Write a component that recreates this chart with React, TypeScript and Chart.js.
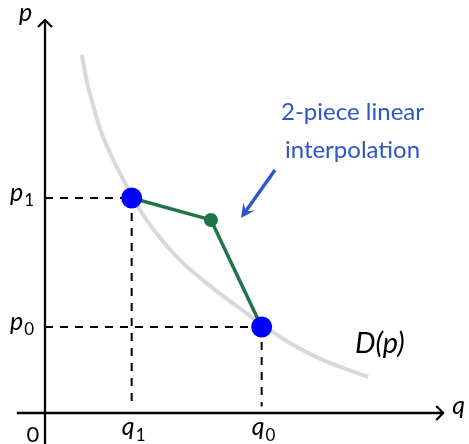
import React, { useEffect, useRef } from "react";
import { Chart, registerables } from "chart.js";

Chart.register(...registerables);

const WIDTH = 469;
const HEIGHT = 444;

// Visible window in (q, p) units
const Q_MIN = -1.0385;
const Q_MAX = 9.785;
const P_MIN = -0.721;
const P_MAX = 9.605;

// Axis line extents
const Q_AXIS_FROM = -0.65;
const Q_AXIS_TO = 9.19;
const P_AXIS_FROM = -0.72;
const P_AXIS_TO = 9.14;

// Demand curve D(p), sampled as (q, p)
const demandQ = [0.85, 0.96, 1.12, 1.31, 1.54, 1.81, 1.97, 2.23, 2.58, 2.96, 3.35, 3.73, 4.11, 4.5, 4.85, 5.06, 5.61, 6.39, 7.46];
const demandP = [8.33, 7.74, 7.12, 6.5, 5.96, 5.42, 5.12, 4.66, 4.17, 3.72, 3.34, 3.02, 2.72, 2.43, 2.17, 2.02, 1.65, 1.24, 0.84];

// Observed price/quantity pairs
const q1 = 2;
const p1 = 5;
const q0 = 5;
const p0 = 2;

// Two-piece linear interpolation knots (q, p)
const knotQ = [q1, 3.83, q0];
const knotP = [p1, 4.49, p0];

const GRAY = "#d9d9d9";
const GREEN = "#1e7548";
const BLUE_DOT = "#0000ff";
const NOTE_BLUE = "#2c57c9";
const FONT = "Lato, 'Open Sans', sans-serif";

const toPoints = (xs: number[], ys: number[]) => xs.map((x, i) => ({ x, y: ys[i] }));

function drawSubLabel(
  ctx: CanvasRenderingContext2D,
  letter: string,
  sub: string,
  x: number,
  baseline: number,
  align: "right" | "center",
  size: number,
  subSize: number,
  subDrop: number
) {
  ctx.font = `italic ${size}px ${FONT}`;
  const wl = ctx.measureText(letter).width;
  ctx.font = `${subSize}px ${FONT}`;
  const ws = ctx.measureText(sub).width;
  const total = wl + ws + 1;
  const start = align === "right" ? x - total : x - total / 2;
  ctx.textAlign = "left";
  ctx.textBaseline = "alphabetic";
  ctx.font = `italic ${size}px ${FONT}`;
  ctx.fillText(letter, start, baseline);
  ctx.font = `${subSize}px ${FONT}`;
  ctx.fillText(sub, start + wl + 1, baseline + subDrop);
}

const overlay = {
  id: "overlay",
  beforeDatasetsDraw(chart: any) {
    const { ctx, scales } = chart;
    const X = (v: number) => scales.x.getPixelForValue(v);
    const Y = (v: number) => scales.y.getPixelForValue(v);
    ctx.save();
    ctx.strokeStyle = "#000";
    ctx.lineWidth = 2.3;
    ctx.lineCap = "butt";
    ctx.lineJoin = "round";

    // q axis with open arrowhead
    const y0 = Y(0);
    const xEnd = X(Q_AXIS_TO);
    ctx.beginPath();
    ctx.moveTo(X(Q_AXIS_FROM), y0);
    ctx.lineTo(xEnd, y0);
    ctx.stroke();
    ctx.beginPath();
    ctx.moveTo(xEnd - 7, y0 - 7);
    ctx.lineTo(xEnd, y0);
    ctx.lineTo(xEnd - 7, y0 + 7);
    ctx.stroke();

    // p axis with open arrowhead
    const x0 = X(0);
    const yEnd = Y(P_AXIS_TO);
    ctx.beginPath();
    ctx.moveTo(x0, Y(P_AXIS_FROM));
    ctx.lineTo(x0, yEnd);
    ctx.stroke();
    ctx.beginPath();
    ctx.moveTo(x0 - 7, yEnd + 7);
    ctx.lineTo(x0, yEnd);
    ctx.lineTo(x0 + 7, yEnd + 7);
    ctx.stroke();
    ctx.restore();
  },
  afterDatasetsDraw(chart: any) {
    const { ctx, scales } = chart;
    const X = (v: number) => scales.x.getPixelForValue(v);
    const Y = (v: number) => scales.y.getPixelForValue(v);
    ctx.save();
    ctx.fillStyle = "#000";

    // axis names
    ctx.font = `italic 25px ${FONT}`;
    ctx.textBaseline = "alphabetic";
    ctx.textAlign = "left";
    ctx.fillText("p", 19, 21);
    ctx.fillText("q", X(Q_AXIS_TO) + 9, Y(0) + 1);

    // origin
    ctx.font = `22px ${FONT}`;
    ctx.textAlign = "center";
    ctx.fillText("0", 33, 442);

    // price ticks
    drawSubLabel(ctx, "p", "1", 34, Y(p1) + 3, "right", 25, 17, 5);
    drawSubLabel(ctx, "p", "0", 34, Y(p0) + 3, "right", 25, 17, 5);
    // quantity ticks
    drawSubLabel(ctx, "q", "1", X(q1) + 2, 435, "center", 25, 17, 6);
    drawSubLabel(ctx, "q", "0", X(q0) + 2, 435, "center", 25, 17, 6);

    // curve label
    ctx.font = `italic 29px ${FONT}`;
    ctx.textAlign = "left";
    ctx.fillText("D(p)", 355, 353);

    // annotation
    ctx.fillStyle = NOTE_BLUE;
    ctx.font = `24px ${FONT}`;
    ctx.textAlign = "center";
    ctx.fillText("2-piece linear", 352.5, 120);
    ctx.fillText("interpolation", 352.5, 158);

    // annotation arrow
    const sx = 275, sy = 170, tx = 241, ty = 218;
    const ang = Math.atan2(ty - sy, tx - sx);
    ctx.strokeStyle = NOTE_BLUE;
    ctx.lineWidth = 3.4;
    ctx.lineCap = "butt";
    ctx.beginPath();
    ctx.moveTo(sx, sy);
    ctx.lineTo(tx - 6 * Math.cos(ang), ty - 6 * Math.sin(ang));
    ctx.stroke();
    const L = 14, Wd = 7;
    ctx.beginPath();
    ctx.moveTo(tx, ty);
    ctx.lineTo(tx - L * Math.cos(ang) + Wd * Math.sin(ang), ty - L * Math.sin(ang) - Wd * Math.cos(ang));
    ctx.lineTo(tx - 0.6 * L * Math.cos(ang), ty - 0.6 * L * Math.sin(ang));
    ctx.lineTo(tx - L * Math.cos(ang) - Wd * Math.sin(ang), ty - L * Math.sin(ang) + Wd * Math.cos(ang));
    ctx.closePath();
    ctx.fill();
    ctx.restore();
  },
};

export default function App() {
  const canvasRef = useRef<HTMLCanvasElement | null>(null);

  useEffect(() => {
    if (!canvasRef.current) return;
    const dashed = {
      showLine: true,
      borderColor: "#000",
      borderWidth: 2,
      borderDash: [8, 7],
      pointRadius: 0,
      order: 4,
    };
    const chart = new Chart(canvasRef.current, {
      type: "scatter",
      data: {
        datasets: [
          {
            label: "D(p)",
            data: toPoints(demandQ, demandP),
            showLine: true,
            borderColor: GRAY,
            borderWidth: 4,
            cubicInterpolationMode: "monotone",
            pointRadius: 0,
            order: 6,
          },
          { label: "p1 level", data: [{ x: 0, y: p1 }, { x: q1, y: p1 }], ...dashed },
          { label: "q1 level", data: [{ x: q1, y: p1 }, { x: q1, y: 0.15 }], ...dashed },
          { label: "p0 level", data: [{ x: 0, y: p0 }, { x: q0, y: p0 }], ...dashed },
          { label: "q0 level", data: [{ x: q0, y: p0 }, { x: q0, y: 0.15 }], ...dashed },
          {
            label: "interpolation",
            data: toPoints(knotQ, knotP),
            showLine: true,
            borderColor: GREEN,
            borderWidth: 3.5,
            pointRadius: [0, 7, 0],
            pointBackgroundColor: GREEN,
            pointBorderWidth: 0,
            order: 2,
          },
          {
            label: "observations",
            data: [{ x: q1, y: p1 }, { x: q0, y: p0 }],
            showLine: false,
            pointRadius: 10.5,
            pointBackgroundColor: BLUE_DOT,
            pointBorderWidth: 0,
            order: 1,
          },
        ] as any,
      },
      options: {
        animation: false,
        responsive: false,
        maintainAspectRatio: false,
        layout: { padding: 0, autoPadding: false },
        plugins: { legend: { display: false }, tooltip: { enabled: false } },
        events: [],
        scales: {
          x: { type: "linear", min: Q_MIN, max: Q_MAX, display: false },
          y: { type: "linear", min: P_MIN, max: P_MAX, display: false },
        },
      },
      plugins: [overlay],
    });
    return () => chart.destroy();
  }, []);

  return (
    <div style={{ position: "fixed", left: 0, top: 0, width: WIDTH, height: HEIGHT, background: "#fff" }}>
      <canvas ref={canvasRef} width={WIDTH} height={HEIGHT} style={{ display: "block" }} />
    </div>
  );
}
